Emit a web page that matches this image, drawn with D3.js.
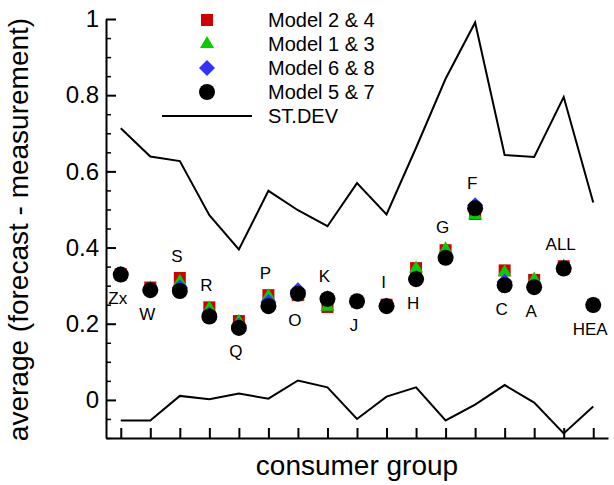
<!DOCTYPE html>
<html>
<head>
<meta charset="utf-8">
<script src="https://cdn.jsdelivr.net/npm/d3@7"></script>
<style>
  html, body { margin: 0; padding: 0; background: #fff; }
  svg { display: block; font-family: "Liberation Sans", Arial, Helvetica, sans-serif; }
</style>
</head>
<body>
<svg id="chart" width="614" height="485"></svg>
<script>
// Consumer groups along the x axis
const categories = ['Zx','W','S','R','Q','P','O','K','J','I','H','G','F','C','A','ALL','HEA'];

// Average (forecast - measurement) per model pair
const model24 = [0.330, 0.295, 0.320, 0.243, 0.207, 0.275, 0.275, 0.244, 0.258, 0.250, 0.346, 0.393, 0.488, 0.340, 0.315, 0.351, 0.250];
const model13 = [0.330, 0.293, 0.310, 0.240, 0.205, 0.272, 0.272, 0.245, 0.258, 0.248, 0.345, 0.395, 0.485, 0.335, 0.316, 0.350, 0.250];
const model68 = [0.330, 0.290, 0.295, 0.225, 0.195, 0.257, 0.288, 0.267, 0.258, 0.247, 0.320, 0.375, 0.511, 0.310, 0.298, 0.346, 0.250];
const model57 = [0.329, 0.288, 0.286, 0.219, 0.189, 0.246, 0.279, 0.265, 0.259, 0.246, 0.317, 0.373, 0.503, 0.301, 0.296, 0.345, 0.249];

// Standard deviation envelope (upper and lower curves)
const stdevUpper = [0.713, 0.639, 0.627, 0.485, 0.395, 0.549, 0.498, 0.456, 0.569, 0.487, 0.662, 0.843, 0.991, 0.643, 0.638, 0.795, 0.518];
const stdevLower = [-0.054, -0.054, 0.0105, 0.0016, 0.0166, 0.0034, 0.051, 0.033, -0.050, 0.0087, 0.033, -0.054, -0.0124, 0.039, -0.007, -0.088, -0.0176];

// Which side of its markers each group label sits on
const labelSide = ['below','below','above','above','below','above','below','above','below','above','below','above','above','below','below','above','below'];

const yTicks = [0, 0.2, 0.4, 0.6, 0.8, 1];
const legendLabels = ['Model 2 & 4', 'Model 1 & 3', 'Model 6 & 8', 'Model 5 & 7', 'ST.DEV'];

const svg = d3.select('#chart');
const plotLeft = 106, plotRight = 608, plotTop = 19, plotBottom = 438;

const x = d3.scalePoint().domain(categories).range([plotLeft, plotRight]).padding(0.5);
const y = d3.scaleLinear().domain([-0.1, 1.0]).range([plotBottom, plotTop]);

// Y axis: inward major ticks with labels, inward minor ticks
const minorTicks = d3.range(-0.1, 1.0001, 0.05).map(v => +v.toFixed(2)).filter(v => !yTicks.some(t => Math.abs(t - v) < 1e-6));
const yMinor = svg.append('g').attr('transform', `translate(${plotLeft},0)`)
  .call(d3.axisLeft(y).tickValues(minorTicks).tickSizeInner(-5).tickSizeOuter(0).tickFormat(''));
yMinor.select('.domain').remove();
yMinor.selectAll('line').attr('stroke', '#000').attr('stroke-width', 1.5);

const yAxis = svg.append('g').attr('transform', `translate(${plotLeft},0)`)
  .call(d3.axisLeft(y).tickValues(yTicks).tickSizeInner(-10).tickSizeOuter(0).tickPadding(7).tickFormat(d3.format('~g')));
yAxis.select('.domain').attr('stroke', '#000').attr('stroke-width', 2);
yAxis.selectAll('line').attr('stroke', '#000').attr('stroke-width', 2);
yAxis.selectAll('text').attr('font-size', 24).attr('fill', '#000')
  .attr('font-family', '"Liberation Sans", Arial, sans-serif');

// X axis: inward ticks, no tick labels
const xAxis = svg.append('g').attr('transform', `translate(0,${plotBottom})`)
  .call(d3.axisBottom(x).tickSizeInner(-10).tickSizeOuter(0).tickFormat(''));
xAxis.select('.domain').attr('stroke', '#000').attr('stroke-width', 2);
xAxis.selectAll('line').attr('stroke', '#000').attr('stroke-width', 2);

// Axis titles
svg.append('text')
  .attr('transform', `translate(28,${(plotTop + plotBottom) / 2 + 1}) rotate(-90)`)
  .attr('text-anchor', 'middle').attr('font-size', 28).attr('fill', '#000')
  .text('average (forecast - measurement)');
svg.append('text')
  .attr('x', (plotLeft + plotRight) / 2).attr('y', 475)
  .attr('text-anchor', 'middle').attr('font-size', 28).attr('fill', '#000')
  .text('consumer group');

// ST.DEV curves
const line = d3.line().x((d, i) => x(categories[i])).y(d => y(d));
[stdevUpper, stdevLower].forEach(s => {
  svg.append('path').datum(s).attr('d', line)
    .attr('fill', 'none').attr('stroke', '#000').attr('stroke-width', 2).attr('stroke-linejoin', 'miter');
});

// Marker styles
const markers = [
  { values: model24, fill: '#d00000', path: d3.symbol().type(d3.symbolSquare).size(144)(), rot: 0 },
  { values: model13, fill: '#00d000', path: d3.symbol().type(d3.symbolTriangle).size(85)(), rot: 0 },
  { values: model68, fill: '#3333ff', path: d3.symbol().type(d3.symbolSquare).size(128)(), rot: 45 },
  { values: model57, fill: '#000000', path: d3.symbol().type(d3.symbolCircle).size(201)(), rot: 0 }
];

markers.forEach(m => {
  svg.append('g').selectAll('path').data(m.values).join('path')
    .attr('d', m.path)
    .attr('transform', (d, i) => `translate(${x(categories[i])},${y(d)}) rotate(${m.rot})`)
    .attr('fill', m.fill);
});

// Group labels above or below the marker cluster
svg.append('g').selectAll('text').data(categories).join('text')
  .attr('x', (d, i) => x(d) - 3)
  .attr('y', (d, i) => {
    const vals = [model24[i], model13[i], model68[i], model57[i]];
    return labelSide[i] === 'above' ? y(d3.max(vals)) - 22 : y(d3.min(vals)) + 24;
  })
  .attr('dominant-baseline', 'central')
  .attr('text-anchor', 'middle').attr('font-size', 17).attr('fill', '#000')
  .text(d => d);

// Legend
const legend = svg.append('g');
const legX = 207, legTextX = 268, legY0 = 20, legStep = 24;
markers.forEach((m, i) => {
  legend.append('path').attr('d', m.path)
    .attr('transform', `translate(${legX},${legY0 + i * legStep}) rotate(${m.rot})`)
    .attr('fill', m.fill);
});
legend.append('line')
  .attr('x1', 162).attr('x2', 252)
  .attr('y1', legY0 + 4 * legStep).attr('y2', legY0 + 4 * legStep)
  .attr('stroke', '#000').attr('stroke-width', 2);
legend.selectAll('text').data(legendLabels).join('text')
  .attr('x', legTextX).attr('y', (d, i) => legY0 + i * legStep)
  .attr('dominant-baseline', 'central')
  .attr('font-size', 20).attr('fill', '#000')
  .text(d => d);
</script>
</body>
</html>
